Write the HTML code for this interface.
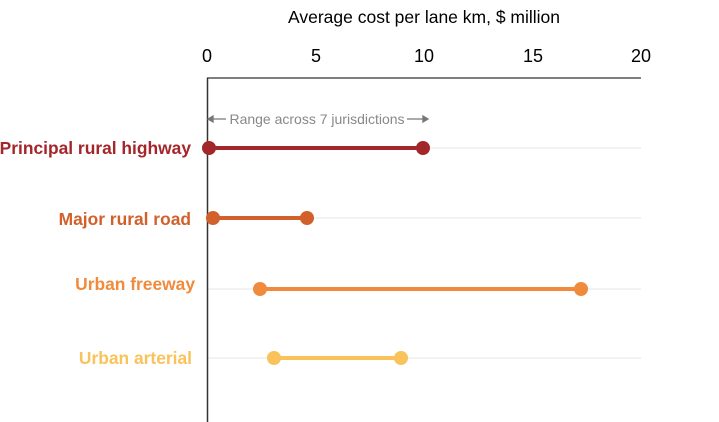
<!DOCTYPE html>
<html><head><meta charset="utf-8"><style>
html,body{margin:0;padding:0;background:#fff;}
svg{display:block;font-family:"Liberation Sans",Arial,sans-serif;}
</style></head><body>
<svg width="719" height="422" viewBox="0 0 719 422">
<text x="424" y="23" font-size="17.5" text-anchor="middle" fill="#000">Average cost per lane km, $ million</text>
<g font-size="18" text-anchor="middle" fill="#000">
<text x="207" y="62">0</text><text x="316" y="62">5</text><text x="424" y="62">10</text><text x="533" y="62">15</text><text x="641" y="62">20</text>
</g>
<g stroke="#e6e6e6" stroke-width="1">
<line x1="207" y1="148" x2="641" y2="148"/><line x1="207" y1="218" x2="641" y2="218"/>
<line x1="207" y1="289" x2="641" y2="289"/><line x1="207" y1="358" x2="641" y2="358"/>
</g>
<line x1="207" y1="78" x2="641" y2="78" stroke="#555" stroke-width="1.5"/>
<line x1="207.5" y1="78" x2="207.5" y2="422" stroke="#333" stroke-width="1.5"/>
<g stroke="#777" stroke-width="1.3" fill="#777">
<line x1="209" y1="119" x2="226" y2="119"/><path d="M208 119 l5 -3 v6z"/>
<line x1="407" y1="119" x2="426" y2="119"/><path d="M428 119 l-5 -3 v6z"/>
</g>
<text x="317" y="124" font-size="14" fill="#888" text-anchor="middle">Range across 7 jurisdictions</text>
<g font-size="17.4" font-weight="bold" text-anchor="end">
<text x="191" y="154" fill="#a3262a">Principal rural highway</text>
<text x="191" y="225" fill="#d2602a">Major rural road</text>
<text x="195" y="290" fill="#f08a3c">Urban freeway</text>
<text x="192" y="364" fill="#f9c25a">Urban arterial</text>
</g>
<g stroke-width="4">
<line x1="209" y1="148" x2="423" y2="148" stroke="#a3262a"/>
<line x1="213" y1="218" x2="307" y2="218" stroke="#d2602a"/>
<line x1="260" y1="289" x2="581" y2="289" stroke="#f08a3c"/>
<line x1="274" y1="358" x2="401" y2="358" stroke="#f9c25a"/>
</g>
<circle cx="209" cy="148" r="7" fill="#a3262a"/><circle cx="423" cy="148" r="7" fill="#a3262a"/>
<circle cx="213" cy="218" r="7" fill="#d2602a"/><circle cx="307" cy="218" r="7" fill="#d2602a"/>
<circle cx="260" cy="289" r="7" fill="#f08a3c"/><circle cx="581" cy="289" r="7" fill="#f08a3c"/>
<circle cx="274" cy="358" r="7" fill="#f9c25a"/><circle cx="401" cy="358" r="7" fill="#f9c25a"/>
</svg>
</body></html>
